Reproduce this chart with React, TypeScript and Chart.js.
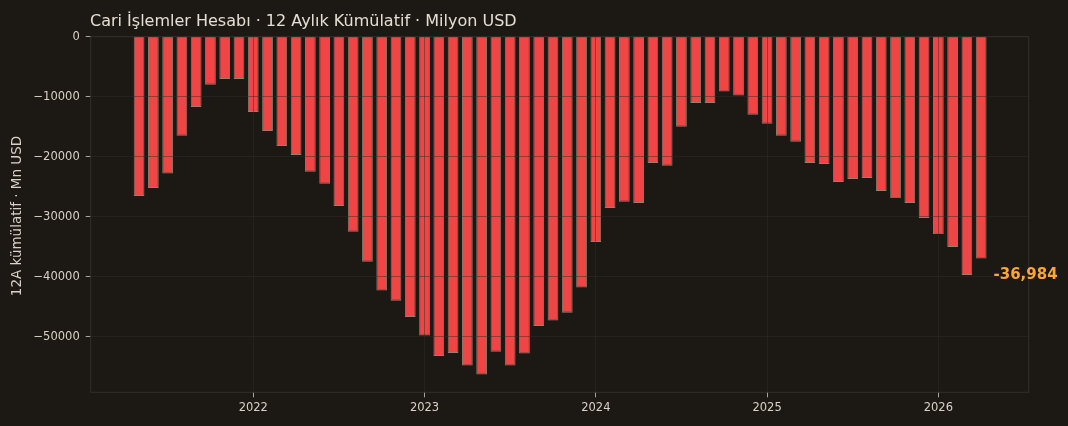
import { useEffect, useRef } from "react"
import { Chart, registerables } from "chart.js"

Chart.register(...registerables)

const months = [
  "2021-05", "2021-06", "2021-07", "2021-08", "2021-09", "2021-10", "2021-11", "2021-12",
  "2022-01", "2022-02", "2022-03", "2022-04", "2022-05", "2022-06", "2022-07", "2022-08", "2022-09", "2022-10", "2022-11", "2022-12",
  "2023-01", "2023-02", "2023-03", "2023-04", "2023-05", "2023-06", "2023-07", "2023-08", "2023-09", "2023-10", "2023-11", "2023-12",
  "2024-01", "2024-02", "2024-03", "2024-04", "2024-05", "2024-06", "2024-07", "2024-08", "2024-09", "2024-10", "2024-11", "2024-12",
  "2025-01", "2025-02", "2025-03", "2025-04", "2025-05", "2025-06", "2025-07", "2025-08", "2025-09", "2025-10", "2025-11", "2025-12",
  "2026-01", "2026-02", "2026-03", "2026-04",
]

// 12-month cumulative current account, million USD
const cumulative = [
  -26550, -25200, -22800, -16500, -11700, -8000, -7050, -7050,
  -12550, -15700, -18200, -19700, -22500, -24500, -28200, -32500, -37500, -42300, -44000, -46700,
  -49800, -53200, -52700, -54800, -56300, -52500, -54800, -52800, -48200, -47300, -46000, -41800,
  -34200, -28550, -27500, -27700, -21050, -21500, -15000, -11050, -11050, -9150, -9800, -13000,
  -14500, -16500, -17500, -21050, -21200, -24200, -23700, -23550, -25700, -26900, -27700, -30200,
  -32900, -35050, -39700, -36984,
]

const yearTicks = ["2022", "2023", "2024", "2025", "2026"]
const yTicks = [0, -10000, -20000, -30000, -40000, -50000]

const BASE_YEAR = 2021
const monthPos = (s: string) => {
  const [y, m] = s.split("-").map(Number)
  return (y - BASE_YEAR) * 12 + (m - 1)
}
const yearPos = (s: string) => (Number(s) - BASE_YEAR) * 12

const BG = "#1c1915"
const TEXT = "#d8d2c6"
const GRID = "rgba(48,43,37,0.6)"
const FONT = "'DejaVu Sans', sans-serif"

const decorations = {
  id: "decorations",
  beforeDraw(chart: Chart) {
    const { ctx, width, height } = chart
    ctx.save()
    ctx.fillStyle = BG
    ctx.fillRect(0, 0, width, height)
    ctx.restore()
  },
  afterDraw(chart: Chart) {
    const { ctx, chartArea } = chart
    ctx.save()
    // frame
    ctx.strokeStyle = "#332f29"
    ctx.lineWidth = 1
    ctx.strokeRect(chartArea.left, chartArea.top, chartArea.right - chartArea.left, chartArea.bottom - chartArea.top)

    // title
    ctx.fillStyle = "#e4dfd4"
    ctx.font = `16px ${FONT}`
    ctx.textAlign = "left"
    ctx.textBaseline = "alphabetic"
    ctx.fillText("Cari İşlemler Hesabı · 12 Aylık Kümülatif · Milyon USD", 90, 25.5)

    // y axis title
    ctx.save()
    ctx.translate(17, 216)
    ctx.rotate(-Math.PI / 2)
    ctx.fillStyle = TEXT
    ctx.font = `13.5px ${FONT}`
    ctx.textAlign = "center"
    ctx.textBaseline = "middle"
    ctx.fillText("12A kümülatif · Mn USD", 0, 0)
    ctx.restore()

    // last value label
    const meta = chart.getDatasetMeta(0)
    const last = meta.data[meta.data.length - 1] as any
    if (last) {
      const v = cumulative[cumulative.length - 1]
      ctx.fillStyle = "#ffa534"
      ctx.font = `bold 15px ${FONT}`
      ctx.textAlign = "left"
      ctx.textBaseline = "middle"
      ctx.fillText(v.toLocaleString("en-US"), last.x + last.width / 2 + 7, last.y + 17)
    }
    ctx.restore()
  },
}

export default function App() {
  const chartRef = useRef<HTMLCanvasElement>(null)
  const chartInstance = useRef<Chart | null>(null)

  useEffect(() => {
    document.body.style.margin = "0"
    document.body.style.background = BG
    if (!chartRef.current) return
    if (chartInstance.current) chartInstance.current.destroy()
    const ctx = chartRef.current.getContext("2d")
    if (!ctx) return

    chartInstance.current = new Chart(ctx, {
      type: "bar",
      data: {
        datasets: [
          {
            label: "12A kümülatif",
            data: months.map((m, i) => ({ x: monthPos(m), y: cumulative[i] })),
            backgroundColor: "#ef4545",
            borderColor: "rgba(210,185,170,0.65)",
            borderWidth: 0.9,
            barPercentage: 0.75,
            categoryPercentage: 1,
          },
        ],
      },
      options: {
        responsive: true,
        maintainAspectRatio: false,
        animation: false,
        layout: { padding: { top: 36.7, right: 39.3, left: 0, bottom: 0 } },
        plugins: {
          legend: { display: false },
          tooltip: { enabled: false },
        },
        scales: {
          x: {
            type: "linear",
            offset: false,
            min: 0.61,
            max: 66.33,
            afterFit: (s: any) => {
              s.height = 33.7
            },
            afterBuildTicks: (s: any) => {
              s.ticks = yearTicks.map((y) => ({ value: yearPos(y) }))
            },
            ticks: {
              color: TEXT,
              font: { family: FONT, size: 11.5 },
              padding: 4,
              maxRotation: 0,
              autoSkip: false,
              callback: (v: any) => String(BASE_YEAR + Number(v) / 12),
            },
            grid: { offset: false, color: GRID, lineWidth: 0.8, tickColor: "#cfc9bd", tickLength: 5, z: 1 },
            border: { display: false },
          },
          y: {
            min: -59270,
            max: 0,
            afterFit: (s: any) => {
              s.width = 90.7
            },
            afterBuildTicks: (s: any) => {
              s.ticks = yTicks.map((v) => ({ value: v }))
            },
            ticks: {
              color: TEXT,
              font: { family: FONT, size: 11.5 },
              padding: 6,
              autoSkip: false,
              callback: (v: any) => (Number(v) < 0 ? "\u2212" + Math.abs(Number(v)) : String(v)),
            },
            grid: { color: GRID, lineWidth: 0.8, tickColor: "#cfc9bd", tickLength: 5, z: 1 },
            border: { display: false },
          },
        },
      },
      plugins: [decorations],
    })

    return () => {
      if (chartInstance.current) {
        chartInstance.current.destroy()
        chartInstance.current = null
      }
    }
  }, [])

  return (
    <div style={{ width: 1068, height: 426, position: "relative" }}>
      <canvas ref={chartRef}></canvas>
    </div>
  )
}
